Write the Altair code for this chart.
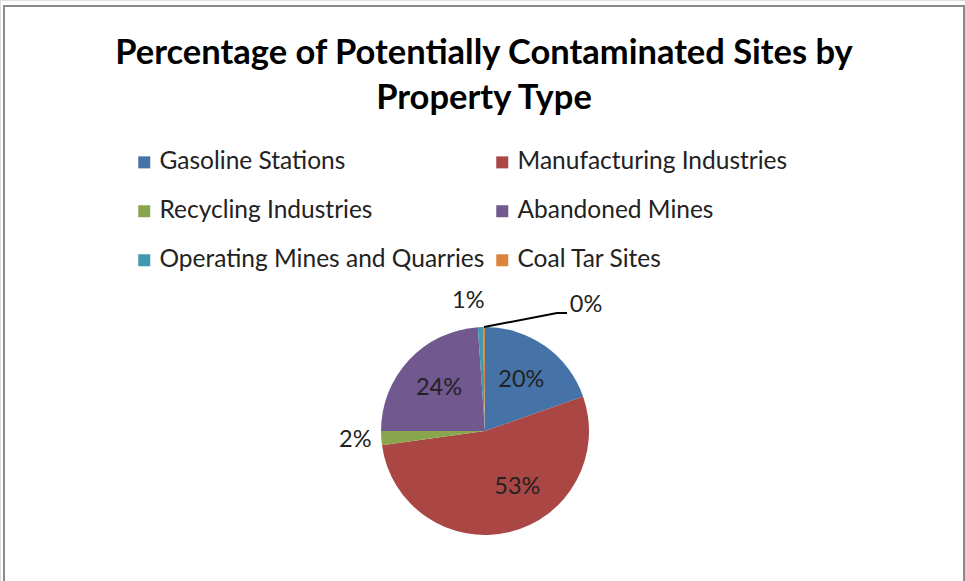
import altair as alt
import pandas as pd

categories = ["Gasoline Stations", "Manufacturing Industries", "Recycling Industries",
              "Abandoned Mines", "Operating Mines and Quarries", "Coal Tar Sites"]
values = [19.6, 53.2, 2.2, 23.9, 0.8, 0.3]
colors = ["#4572A7", "#AA4643", "#89A54E", "#71588F", "#4198AF", "#DB843D"]
title_lines = ["Percentage of Potentially Contaminated Sites by", "Property Type"]

FONT = "Lato"
CX, CY, R = 485, 431, 104

df = pd.DataFrame({"cat": categories, "value": values, "idx": list(range(len(categories)))})
one = pd.DataFrame({"a": [0]})

base = alt.Chart(df).transform_joinaggregate(total="sum(value)").transform_calculate(
    share="datum.value / datum.total"
)

theta = alt.Theta("value:Q", stack=True)
order = alt.Order("idx:Q", sort="ascending")

pie = base.mark_arc(radius=R, stroke=None).encode(
    theta=theta,
    order=order,
    x=alt.value(CX),
    y=alt.value(CY),
    color=alt.Color(
        "cat:N",
        sort=None,
        scale=alt.Scale(domain=categories, range=colors),
        legend=alt.Legend(
            title=None,
            orient="none",
            direction="horizontal",
            legendX=132,
            legendY=150,
            columns=2,
            columnPadding=5,
            rowPadding=24,
            symbolType="square",
            symbolSize=144,
            symbolStrokeWidth=0,
            symbolOpacity=1,
            labelFont=FONT,
            labelFontSize=24.5,
            labelColor="#222222",
            labelOffset=3,
            labelLimit=0,
            padding=0,
        ),
    ),
)


def labels(cats, radius, dx=0, dy=0, align="center"):
    cond = " || ".join([f"datum.cat == '{c}'" for c in cats])
    return base.transform_calculate(
        lab=f"({cond}) ? format(datum.share, '.0%') : ''"
    ).mark_text(
        radius=radius, font=FONT, fontSize=23.5, color="#222222",
        dx=dx, dy=dy, align=align, baseline="middle"
    ).encode(
        theta=theta, order=order, text="lab:N",
        x=alt.value(CX), y=alt.value(CY),
    )


lab_in = labels(["Gasoline Stations", "Abandoned Mines"], 63)
lab_big = labels(["Manufacturing Industries"], 65, dx=17, dy=-7)
lab_green = labels(["Recycling Industries"], 130)
lab_cyan = labels(["Operating Mines and Quarries"], 130, dx=-11)
lab_orange = labels(["Coal Tar Sites"], 130, dx=86, dy=4, align="left")

leader1 = alt.Chart(one).mark_rule(color="#000000", strokeWidth=2).encode(
    x=alt.value(484), y=alt.value(327), x2=alt.value(557), y2=alt.value(313))
leader2 = alt.Chart(one).mark_rule(color="#000000", strokeWidth=2).encode(
    x=alt.value(557), y=alt.value(313), x2=alt.value(567), y2=alt.value(313))

title = alt.Chart(one).mark_text(
    font=FONT, fontSize=34.5, fontWeight="bold", color="#000000",
    align="center", baseline="middle", lineHeight=45,
).encode(x=alt.value(484), y=alt.value(54), text=alt.value(title_lines))

frame = alt.Chart(one).mark_rect(fill=None, stroke="#8a8a8a", strokeWidth=2).encode(
    x=alt.value(4), x2=alt.value(964), y=alt.value(6), y2=alt.value(620))

chart = alt.layer(
    frame, title, pie, lab_in, lab_big, lab_green, lab_cyan, lab_orange, leader1, leader2
).properties(
    width=965, height=581,
    autosize=alt.AutoSizeParams(type="none"),
    padding=0,
).configure_view(stroke=None).configure(background="white")

chart.save("out.html", embed_options={"renderer": "svg", "actions": False})
